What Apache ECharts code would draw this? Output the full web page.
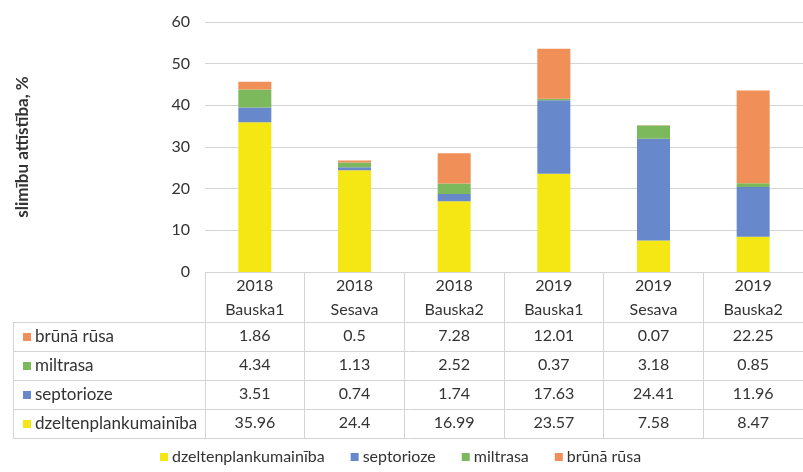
<!DOCTYPE html>
<html>
<head>
<meta charset="utf-8">
<script src="https://cdn.jsdelivr.net/npm/echarts@6/dist/echarts.min.js"></script>
<style>
html,body{margin:0;padding:0;background:#fff;}
#c{width:803px;height:472px;}
</style>
</head>
<body>
<div id="c"></div>
<script>
// ---- data ----
const categories = ['2018\nBauska1', '2018\nSesava', '2018\nBauska2', '2019\nBauska1', '2019\nSesava', '2019\nBauska2'];
const seriesNames = ['dzeltenplankumainība', 'septorioze', 'miltrasa', 'brūnā rūsa'];
const dzeltenplankumainiba = [35.96, 24.4, 16.99, 23.57, 7.58, 8.47];
const septorioze = [3.51, 0.74, 1.74, 17.63, 24.41, 11.96];
const miltrasa = [4.34, 1.13, 2.52, 0.37, 3.18, 0.85];
const brunaRusa = [1.86, 0.5, 7.28, 12.01, 0.07, 22.25];
const yMin = 0, yMax = 60, yInterval = 10;
const yTitle = 'slimību attīstība, %';

// ---- styles / layout ----
const seriesValues = [dzeltenplankumainiba, septorioze, miltrasa, brunaRusa];
const colors = ['#f4e714', '#6789cb', '#7cb95c', '#f08f58'];
const FONT = 'Lato';
const FS = 16;
const TXT = '#333333';
const LINE = '#d4d4d4';
const gridLeft = 205, gridTop = 22, gridHeight = 250, colW = 101;
const gridWidth = colW * categories.length;
const headerH = 50, rowH = 29;
const tableRows = [3, 2, 1, 0]; // display order top->bottom
const tableLeft = 13;

const chart = echarts.init(document.getElementById('c'), null, {renderer: 'canvas'});

const xAxes = [{
  type: 'category', gridIndex: 0, data: categories, position: 'bottom',
  axisLine: {show: true, lineStyle: {color: LINE, width: 1}},
  axisTick: {show: true, length: headerH + rowH * tableRows.length, lineStyle: {color: LINE}},
  axisLabel: {margin: 2, lineHeight: 24, fontSize: FS, color: TXT, fontFamily: FONT, interval: 0},
  splitLine: {show: false}
}];
tableRows.forEach((si, r) => {
  xAxes.push({
    type: 'category', gridIndex: 0, data: categories, position: 'bottom',
    offset: headerH + rowH * r,
    axisLine: {show: false}, axisTick: {show: false}, splitLine: {show: false},
    axisLabel: {
      margin: 6, fontSize: FS, color: TXT, fontFamily: FONT, interval: 0,
      formatter: (v, i) => String(seriesValues[si][i])
    }
  });
});

const graphics = [];
const tableBottom = gridTop + gridHeight + headerH + rowH * tableRows.length;
for (let r = 0; r <= tableRows.length; r++) {
  const y = gridTop + gridHeight + headerH + rowH * r;
  graphics.push({type: 'line', silent: true, shape: {x1: tableLeft, y1: y + 0.5, x2: gridLeft + gridWidth, y2: y + 0.5}, style: {stroke: LINE, lineWidth: 1}});
}
graphics.push({type: 'line', silent: true, shape: {x1: tableLeft + 0.5, y1: gridTop + gridHeight + headerH, x2: tableLeft + 0.5, y2: tableBottom}, style: {stroke: LINE, lineWidth: 1}});
tableRows.forEach((si, r) => {
  const yc = gridTop + gridHeight + headerH + rowH * r + rowH / 2 + 0.5;
  graphics.push({type: 'rect', silent: true, shape: {x: tableLeft + 10, y: yc - 4, width: 8, height: 8}, style: {fill: colors[si]}});
  graphics.push({type: 'text', silent: true, x: tableLeft + 22, y: yc, style: {text: seriesNames[si], fill: TXT, font: '17px ' + FONT, verticalAlign: 'middle', align: 'left'}});
});

chart.setOption({
  animation: false,
  textStyle: {fontFamily: FONT},
  color: colors,
  grid: {left: gridLeft, top: gridTop, width: gridWidth, height: gridHeight, containLabel: false},
  legend: {
    bottom: 2, left: 155, icon: 'rect', itemWidth: 8, itemHeight: 8, itemGap: 26,
    textStyle: {fontSize: FS, color: TXT, fontFamily: FONT, padding: [0, 0, 0, -1]},
    data: seriesNames
  },
  xAxis: xAxes,
  yAxis: {
    type: 'value', min: yMin, max: yMax, interval: yInterval,
    name: yTitle, nameLocation: 'middle', nameGap: 174, nameRotate: 90,
    nameTextStyle: {fontSize: 17, fontWeight: 'bold', color: TXT, fontFamily: FONT},
    axisLine: {show: false}, axisTick: {show: false},
    axisLabel: {margin: 15, fontSize: FS, color: TXT, fontFamily: FONT},
    splitLine: {lineStyle: {color: LINE, width: 1}}
  },
  graphic: graphics,
  series: seriesNames.map((n, i) => ({
    name: n, type: 'bar', stack: 'total', xAxisIndex: 0, barWidth: 33,
    data: seriesValues[i], itemStyle: {color: colors[i]}
  }))
});
</script>
</body>
</html>
